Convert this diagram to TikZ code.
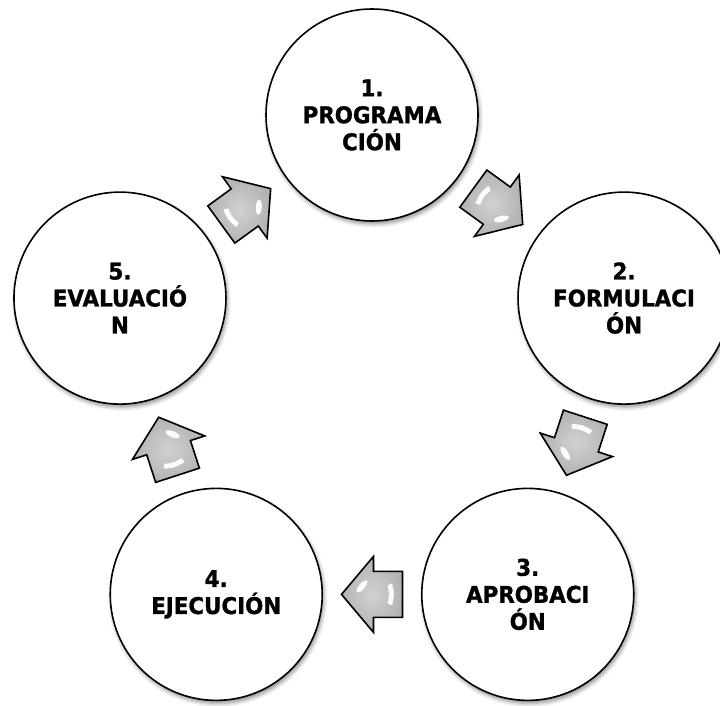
\documentclass[tikz,border=0pt]{standalone}
\usepackage{fontspec}
\newfontfamily\lblfont{DejaVu Sans}[FakeStretch=0.93,FakeBold=1.2]
\usetikzlibrary{calc,shadows.blur}
\definecolor{arrlight}{gray}{0.82}
\definecolor{arrdark}{gray}{0.70}
\tikzset{
  stage/.style={circle, draw=black, line width=1.6pt, fill=white,
    minimum size=212pt, inner sep=0pt, align=center,
    font=\lblfont\bfseries\fontsize{23}{27}\selectfont,
    blur shadow={shadow xshift=1.5pt, shadow yshift=-3pt,
      shadow blur radius=4pt, shadow opacity=45}},
  arrbody/.style={draw=black, line width=1.6pt, line join=miter,
    inner color=arrlight, outer color=arrdark},
  arrshine/.style={fill=white, opacity=0.95},
}
\newcommand\cyclearrow[3]{%
  \begin{scope}[shift={($(#1)!0.5!(#2)$)}, rotate=#3]
    \path[arrbody] (-30.5,23) -- (-1.5,23) -- (-1.5,38) -- (30.5,0)
      -- (-1.5,-38) -- (-1.5,-23) -- (-30.5,-23) -- cycle;
    \fill[arrshine] (-20,-11) .. controls (-22.5,0) .. (-20,11)
      -- (-15.5,9) .. controls (-17.5,0) .. (-15.5,-9) -- cycle;
    \fill[arrshine, rotate around={50:(10,-8)}] (10,-8) ellipse (7.5 and 3);
  \end{scope}}
\begin{document}
\begin{tikzpicture}[x=1pt,y=1pt]
\clip (0,0) rectangle (720,705);
\coordinate (ctr) at (372,325);
\node[stage] (s1) at ($(ctr)+(90:265)$) {1.\\PROGRAMA\\CIÓN};
\node[stage] (s2) at ($(ctr)+(18:265)$) {2.\\FORMULACI\\ÓN};
\node[stage] (s3) at ($(ctr)+(-54:265)$) {3.\\APROBACI\\ÓN};
\node[stage] (s4) at ($(ctr)+(-126:265)$) {4.\\EJECUCIÓN};
\node[stage] (s5) at ($(ctr)+(162:265)$) {5.\\EVALUACIÓ\\N};
\cyclearrow{s1}{s2}{-36}
\cyclearrow{s2}{s3}{-108}
\cyclearrow{s3}{s4}{180}
\cyclearrow{s4}{s5}{108}
\cyclearrow{s5}{s1}{36}
\end{tikzpicture}
\end{document}
